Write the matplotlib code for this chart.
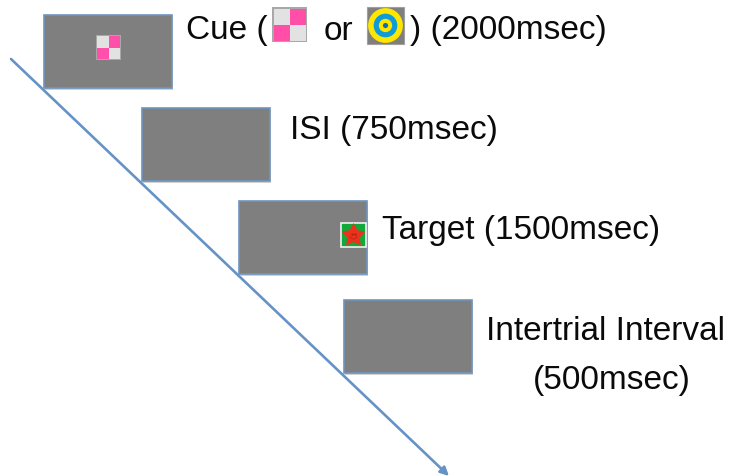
#!/usr/bin/env python

import math
import matplotlib
matplotlib.use('Agg')
import matplotlib.pyplot as plt
from matplotlib.patches import Rectangle, Circle, Arc

W, H = 730, 476
GREY = '#7f7f7f'
EDGE = '#6f94bd'
PINK = '#ff4fa8'
LIGHT = '#e2e2e2'

# screens: left, top, width, height in pixels
screen_x = [44, 142, 239, 344]
screen_y = [15, 108, 201, 300]
screen_w = 128
screen_h = 73

labels = ['Cue (', 'or', ') (2000msec)', 'ISI (750msec)', 'Target (1500msec)',
          'Intertrial Interval', '(500msec)']
label_x = [186, 324, 410, 290, 382, 486, 533]
label_y = [31, 31, 31, 130, 231, 331, 381]

arrow_start = (11, 59)
arrow_end = (449, 476)

plt.rcParams['font.family'] = ['Liberation Sans', 'DejaVu Sans']

fig = plt.figure(figsize=(W / 100, H / 100), dpi=100)
ax = fig.add_axes([0, 0, 1, 1])
ax.set_xlim(0, W)
ax.set_ylim(H, 0)
ax.axis('off')


def checker(x, y, size, pad):
    # grey frame, light squares on one diagonal, pink on the other
    ax.add_patch(Rectangle((x, y), size, size, fc='#a8a8a8', ec='none', zorder=3))
    c = (size - 2 * pad) / 2
    for i, j, col in [(0, 0, LIGHT), (1, 0, PINK), (0, 1, PINK), (1, 1, LIGHT)]:
        ax.add_patch(Rectangle((x + pad + i * c, y + pad + j * c), c, c, fc=col, ec='none', zorder=4))


def target_icon(x, y, size):
    ax.add_patch(Rectangle((x, y), size, size, fc=GREY, ec='#a0a0a0', lw=0.8, zorder=3))
    cx, cy = x + size / 2, y + size / 2
    for r, col in [(0.47, '#ffe600'), (0.32, '#0f9bd7'), (0.18, '#ffe600'), (0.07, '#0b6fae')]:
        ax.add_patch(Circle((cx, cy), r * size, fc=col, ec='none', zorder=4))


def star_icon(x, y, w, h):
    ax.add_patch(Rectangle((x, y), w, h, fc='#12a83c', ec='#f2f2f2', lw=1.2, zorder=3))
    cx, cy = x + w / 2, y + h / 2 + 0.5
    r_out, r_in = 12.5, 6.5
    pts = []
    for k in range(10):
        r = r_out if k % 2 == 0 else r_in
        a = -math.pi / 2 + k * math.pi / 5
        pts.append((cx + r * math.cos(a), cy + r * math.sin(a)))
    ax.fill(*zip(*pts), fc='#f0301a', ec='none', zorder=4)
    ax.add_patch(Arc((cx, cy + 0.5), 7, 6, theta1=0, theta2=180, ec='#a82a12', lw=0.5, zorder=5))
    ax.plot([cx - 1.8, cx + 1.8], [cy - 1.2, cy - 1.2], ls='none', marker='o', ms=0.8, color='#a82a12', zorder=5)


# the time line goes under the screens
ax.annotate('', xy=arrow_end, xytext=arrow_start, zorder=1,
            arrowprops=dict(arrowstyle='-|>,head_length=0.5,head_width=0.25',
                            color='#6593c6', lw=1.9, shrinkA=0, shrinkB=0))

for x, y in zip(screen_x, screen_y):
    ax.add_patch(Rectangle((x + 1, y + 1.5), screen_w, screen_h, fc='#bdbdbd', ec='none', zorder=2, alpha=0.7))
    ax.add_patch(Rectangle((x, y), screen_w, screen_h, fc=GREY, ec=EDGE, lw=1.2, zorder=2.5))

checker(96, 35, 25, 1)
checker(272, 7, 35, 1.5)
target_icon(367, 7, 37)
star_icon(341, 223, 25, 24)

for s, x, y in zip(labels, label_x, label_y):
    ax.text(x, y, s, fontsize=24, color='#0a0a0a', ha='left', va='center', zorder=6)

fig.savefig('out.png', dpi=100)
